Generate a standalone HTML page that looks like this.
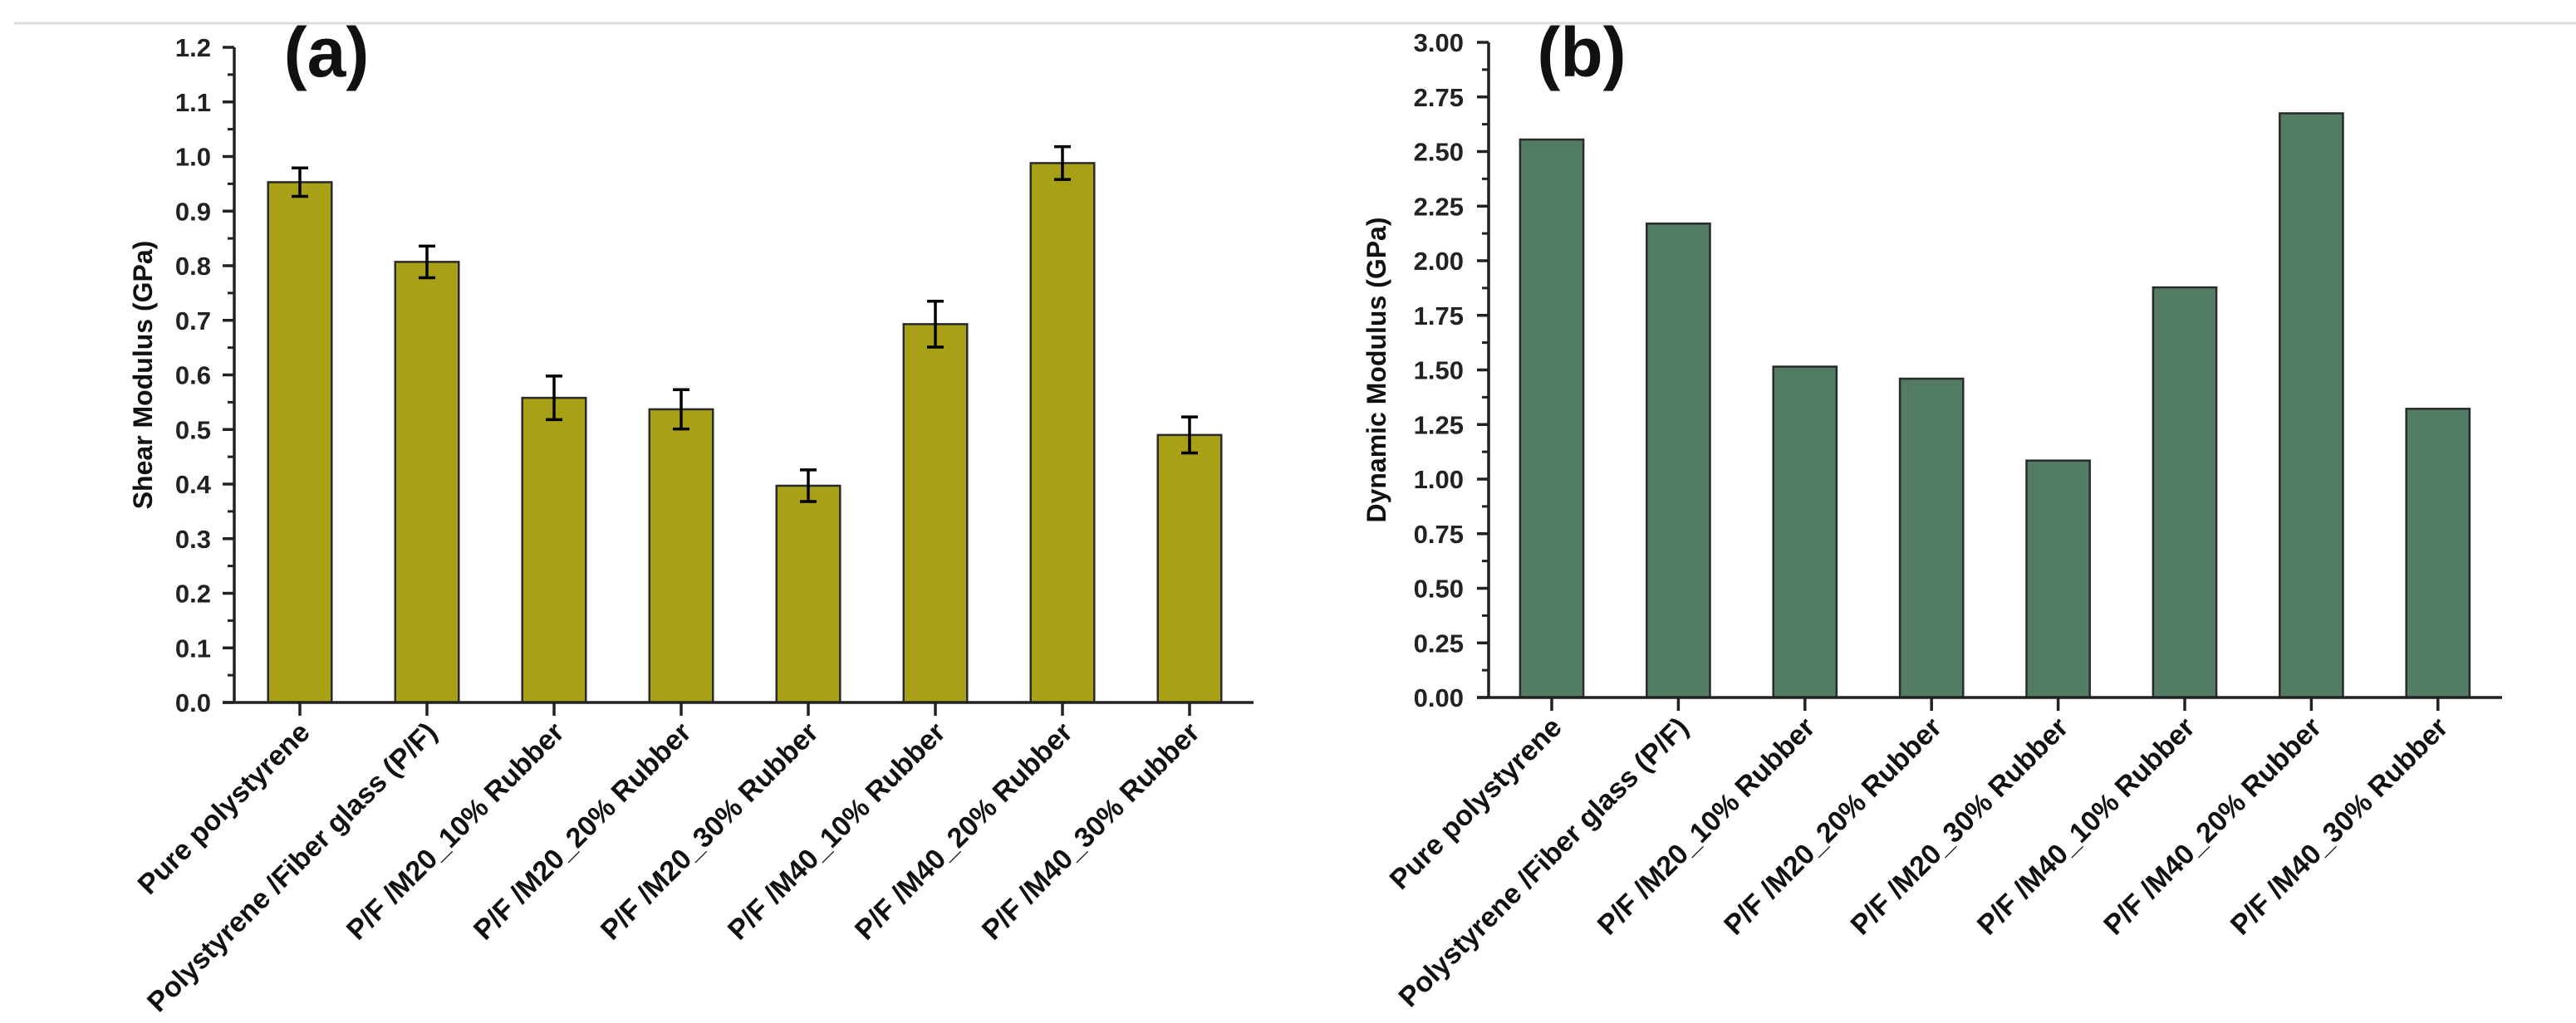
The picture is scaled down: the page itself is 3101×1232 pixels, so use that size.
<!DOCTYPE html>
<html><head><meta charset="utf-8"><style>
html,body{margin:0;padding:0;background:#fff;}
svg{display:block;font-family:"Liberation Sans",Arial,sans-serif;}
</style></head><body>
<svg id="fig" width="3101" height="1232" viewBox="0 0 3101 1232">
<line x1="17" y1="28" x2="3101" y2="28" stroke="#dcdcdc" stroke-width="3"/>
<g id="ga"></g>
<g id="gb"></g>
</svg>
<script>
const categories = ["Pure polystyrene","Polystyrene /Fiber glass (P/F)","P/F /M20_10% Rubber","P/F /M20_20% Rubber","P/F /M20_30% Rubber","P/F /M40_10% Rubber","P/F /M40_20% Rubber","P/F /M40_30% Rubber"];
const shearValues = [0.953,0.807,0.558,0.537,0.397,0.693,0.988,0.490];
const shearErrors = [0.026,0.029,0.040,0.036,0.029,0.042,0.030,0.033];
const dynamicValues = [2.555,2.17,1.515,1.46,1.085,1.878,2.675,1.322];
const shearTicks = ["0.0","0.1","0.2","0.3","0.4","0.5","0.6","0.7","0.8","0.9","1.0","1.1","1.2"];
const dynamicTicks = ["0.00","0.25","0.50","0.75","1.00","1.25","1.50","1.75","2.00","2.25","2.50","2.75","3.00"];
const NS="http://www.w3.org/2000/svg";
function mk(parent,tag,attrs,text){const e=document.createElementNS(NS,tag);for(const k in attrs)e.setAttribute(k,attrs[k]);if(text!==undefined)e.textContent=text;parent.appendChild(e);return e;}

function drawChart(g,cfg){
  const {ax,x1,yTop,yBot,max,step,first,values,errors,ticks,color,title,letter,letterX,labelRight,titleX}=cfg;
  const y=v=>yBot-(v/max)*(yBot-yTop);
  const xc=i=>first+i*step;
  const bw=step*0.5;
  values.forEach((v,i)=>{
    const r=mk(g,'rect',{x:xc(i)-bw/2,y:y(v),width:bw,height:yBot-y(v),fill:color,stroke:'#2a2a2a','stroke-width':2.5});
    
    
    if(errors){
      const e=errors[i];const cx=xc(i);
      const eg=mk(g,'g',{stroke:'#000','stroke-width':3.5});
      
      
      mk(eg,'line',{x1:cx,x2:cx,y1:y(v+e),y2:y(v-e)});
      mk(eg,'line',{x1:cx-10,x2:cx+10,y1:y(v+e),y2:y(v+e)});
      mk(eg,'line',{x1:cx-10,x2:cx+10,y1:y(v-e),y2:y(v-e)});
    }
  });
  const ya=mk(g,'line',{x1:ax,x2:ax,y1:yTop,y2:yBot,stroke:'#222','stroke-width':3.5});
  
  
  const xa=mk(g,'line',{x1:ax-14,x2:x1,y1:yBot,y2:yBot,stroke:'#222','stroke-width':3.5});
  
  
  const n=ticks.length-1;
  ticks.forEach((t,i)=>{
    const v=max*i/n;
    mk(g,'line',{x1:ax-14,x2:ax,y1:y(v),y2:y(v),stroke:'#222','stroke-width':3.5});
    if(i<n){mk(g,'line',{x1:ax-8,x2:ax,y1:y(v+max/n/2),y2:y(v+max/n/2),stroke:'#222','stroke-width':3});}
    const tl=mk(g,'text',{x:labelRight,y:y(v)+11,'text-anchor':'end','font-size':31,'font-weight':'bold',fill:'#222'},t);
    
    
  });
  categories.forEach((c,i)=>{
    const cx=xc(i);
    mk(g,'line',{x1:cx,x2:cx,y1:yBot,y2:yBot+16,stroke:'#222','stroke-width':3.5});
    const lx=cx+14,ly=yBot+38;
    const tl=mk(g,'text',{x:lx,y:ly,'text-anchor':'end','font-size':34,'font-weight':'bold',fill:'#111',transform:`rotate(-45 ${lx} ${ly})`},c);
    
    
  });
  const ty=(yTop+yBot)/2;
  const tt=mk(g,'text',{x:titleX,y:ty,'text-anchor':'middle','font-size':32,'font-weight':'bold',fill:'#111',transform:`rotate(-90 ${titleX} ${ty})`},title);
  
  
  const lt=mk(g,'text',{x:letterX,y:92,'text-anchor':'middle','font-size':84,'font-weight':'bold',fill:'#111'},letter);
  
  
}
drawChart(document.getElementById('ga'),{ax:282,x1:1509,yTop:57,yBot:846,max:1.2,step:153,first:361,values:shearValues,errors:shearErrors,ticks:shearTicks,color:'#a8a117',title:'Shear Modulus (GPa)',letter:'(a)',letterX:393,labelRight:254,titleX:183});
drawChart(document.getElementById('gb'),{ax:1792,x1:3012,yTop:51,yBot:840,max:3.0,step:152.4,first:1868,values:dynamicValues,errors:null,ticks:dynamicTicks,color:'#527c64',title:'Dynamic Modulus (GPa)',letter:'(b)',letterX:1904,labelRight:1762,titleX:1668});
</script>
</body></html>
